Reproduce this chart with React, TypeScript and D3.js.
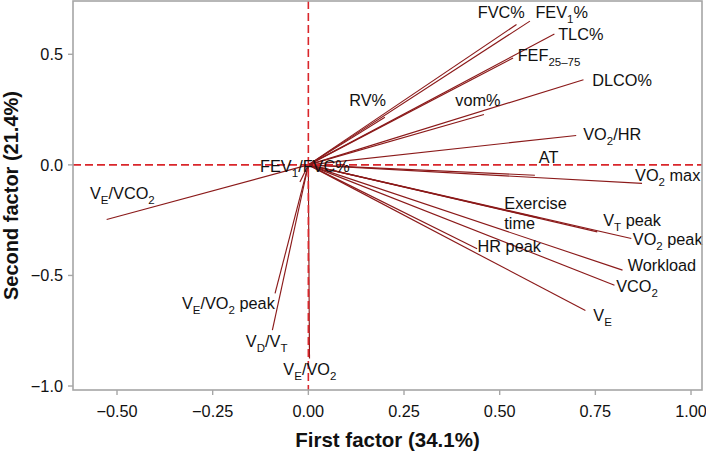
import React from "react";
import * as d3 from "d3";

// Variable names (markup: _{...} = subscript, \n = line break)
const labels = [
  "FVC%", "FEV_{1}%", "TLC%", "FEF_{25–75}", "DLCO%", "RV%", "vom%", "VO_{2}/HR", "AT",
  "FEV_{1}/FVC%", "VO_{2} max", "V_{E}/VCO_{2}", "Exercise\ntime", "V_{T} peak", "VO_{2} peak",
  "HR peak", "Workload", "VCO_{2}", "V_{E}", "V_{E}/VO_{2} peak", "V_{D}/V_{T}", "V_{E}/VO_{2}",
];
// Loadings on first factor (x) and second factor (y)
const loadX = [0.544, 0.579, 0.643, 0.535, 0.719, 0.2, 0.459, 0.7, 0.592, -0.022, 0.872, -0.527, 0.605, 0.755, 0.844, 0.441, 0.821, 0.8, 0.724, -0.087, -0.094, 0.003];
const loadY = [0.635, 0.65, 0.592, 0.483, 0.385, 0.215, 0.228, 0.133, -0.047, -0.077, -0.084, -0.247, -0.241, -0.303, -0.333, -0.379, -0.476, -0.544, -0.659, -0.581, -0.747, -0.876];
// Label positions (data coordinates)
const labelX = [0.504, 0.662, 0.712, 0.629, 0.82, 0.155, 0.443, 0.794, 0.628, -0.009, 0.939, -0.486, 0.512, 0.846, 0.939, 0.525, 0.924, 0.859, 0.769, -0.209, -0.109, 0.004];
const labelY = [0.69, 0.69, 0.591, 0.496, 0.385, 0.292, 0.294, 0.14, 0.034, -0.008, -0.048, -0.126, -0.173, -0.25, -0.334, -0.369, -0.453, -0.55, -0.679, -0.625, -0.798, -0.926];

const xTicks = [-0.5, -0.25, 0, 0.25, 0.5, 0.75, 1.0];
const yTicks = [-1.0, -0.5, 0, 0.5];
const xDomain = [-0.615, 1.0287];
const yDomain = [-1.018, 0.741];
const xTitle = "First factor (34.1%)";
const yTitle = "Second factor (21.4%)";

const W = 706, H = 452;
const left = 73, right = 702, top = 1, bottom = 390;
const FONT = "'Liberation Sans', Arial, Helvetica, sans-serif";
const FS = 16.3;
const SUB = 11.5;
const LINE = "#8b1a1a";
const DASH = "#d9262b";
const FRAME = "#a6a6a6";

const fmtMinus = (s: string) => s.replace("-", "\u2212");

function renderRich(text: string, keyBase: string) {
  const parts: React.ReactNode[] = [];
  const re = /_\{([^}]*)\}/g;
  let last = 0;
  let m: RegExpExecArray | null;
  let i = 0;
  let shifted = false;
  while ((m = re.exec(text)) !== null) {
    if (m.index > last) {
      parts.push(
        <tspan key={keyBase + i++} dy={shifted ? -5 : 0} fontSize={FS}>
          {text.slice(last, m.index)}
        </tspan>
      );
      shifted = false;
    }
    parts.push(
      <tspan key={keyBase + i++} dy={shifted ? 0 : 5} fontSize={SUB}>
        {m[1]}
      </tspan>
    );
    shifted = true;
    last = re.lastIndex;
  }
  if (last < text.length) {
    parts.push(
      <tspan key={keyBase + i++} dy={shifted ? -5 : 0} fontSize={FS}>
        {text.slice(last)}
      </tspan>
    );
  }
  return parts;
}

export default function App() {
  const x = d3.scaleLinear().domain(xDomain).range([left, right]);
  const y = d3.scaleLinear().domain(yDomain).range([bottom, top]);
  const capHalf = 0.716 * FS / 2;

  return (
    <svg
      width={W}
      height={H}
      style={{ position: "absolute", left: 0, top: 0, background: "#fff" }}
      fontFamily={FONT}
    >
      {/* vectors */}
      {labels.map((l, i) => (
        <line
          key={"v" + i}
          x1={x(0)}
          y1={y(0)}
          x2={x(loadX[i])}
          y2={y(loadY[i])}
          stroke={LINE}
          strokeWidth={1.15}
        />
      ))}
      {/* reference lines */}
      <line x1={left} x2={right} y1={y(0)} y2={y(0)} stroke={DASH} strokeWidth={1.6} strokeDasharray="8,4" />
      <line x1={x(0)} x2={x(0)} y1={top} y2={bottom} stroke={DASH} strokeWidth={1.6} strokeDasharray="8,4" />
      {/* labels */}
      {labels.map((l, i) => {
        const lines = l.split("\n");
        const multi = lines.length > 1;
        return (
          <text
            key={"t" + i}
            x={x(labelX[i])}
            y={y(labelY[i]) + capHalf}
            textAnchor={multi ? "start" : "middle"}
            fontSize={FS}
            fill="#111"
          >
            {multi
              ? lines.map((ln, j) => (
                  <tspan key={j} x={x(labelX[i])} dy={j === 0 ? 0 : 20.5}>
                    {ln}
                  </tspan>
                ))
              : renderRich(l, "r" + i)}
          </text>
        );
      })}
      {/* frame */}
      <rect x={left} y={top} width={right - left} height={bottom - top} fill="none" stroke={FRAME} strokeWidth={1.6} />
      {/* x axis */}
      {xTicks.map((t) => (
        <g key={"xt" + t}>
          <line x1={x(t)} x2={x(t)} y1={bottom} y2={bottom + 5} stroke={FRAME} strokeWidth={1.4} />
          <text x={x(t)} y={417} textAnchor="middle" fontSize={FS} fill="#111">
            {fmtMinus(d3.format(".2f")(t))}
          </text>
        </g>
      ))}
      {/* y axis */}
      {yTicks.map((t) => (
        <g key={"yt" + t}>
          <line x1={left - 5} x2={left} y1={y(t)} y2={y(t)} stroke={FRAME} strokeWidth={1.4} />
          <text x={63} y={y(t) + capHalf} textAnchor="end" fontSize={FS} fill="#111">
            {fmtMinus(d3.format(".1f")(t))}
          </text>
        </g>
      ))}
      {/* titles */}
      <text x={(left + right) / 2} y={446.5} textAnchor="middle" fontSize={20.5} fontWeight="bold" fill="#111">
        {xTitle}
      </text>
      <text
        transform={`translate(18, ${(top + bottom) / 2}) rotate(-90)`}
        textAnchor="middle"
        fontSize={20}
        fontWeight="bold"
        fill="#111"
      >
        {yTitle}
      </text>
    </svg>
  );
}
